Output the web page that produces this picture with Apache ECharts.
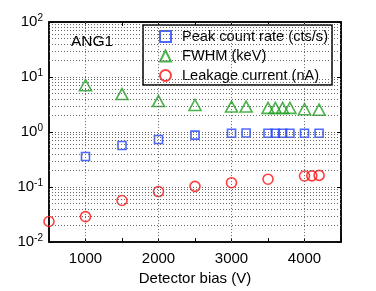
<!DOCTYPE html>
<html><head><meta charset="utf-8">
<script src="https://cdn.jsdelivr.net/npm/echarts@6/dist/echarts.min.js"></script>
<style>html,body{margin:0;padding:0;background:#fff}#c{width:376px;height:291px}</style>
</head><body><div id="c"></div>
<script>
const biasMain = [1000,1500,2000,2500,3000,3200,3500,3600,3700,3800,4000,4200];
const peakRate = [0.36,0.57,0.73,0.88,0.95,0.96,0.95,0.95,0.95,0.95,0.95,0.95];
const fwhm = [7.1,4.9,3.66,3.1,2.9,2.9,2.75,2.75,2.75,2.75,2.6,2.55];
const biasLeak = [500,1000,1500,2000,2500,3000,3500,4000,4100,4200];
const leakage = [0.0237,0.029,0.057,0.083,0.103,0.12,0.139,0.159,0.16,0.163];
const xTicks = [1000,2000,3000,4000];
const minorY = [];
for (let e = -2; e <= 1; e++) for (let m = 2; m <= 9; m++) minorY.push(m * Math.pow(10, e));

const F = 'Liberation Sans, Arial, Helvetica, sans-serif';
const chart = echarts.init(document.getElementById('c'), null, {renderer:'canvas'});
const grid = {left:49, right:35, top:22, bottom:42, show:true, borderColor:'#000', borderWidth:1.5, backgroundColor:'#fff'};
const dotted = {color:'#666', type:[1,2], width:1};
const pair = (xs, ys) => xs.map((x,i)=>[x, ys[i]]);
const expFmt = v => { const e = Math.round(Math.log10(v)); return '10{s|' + e + '}'; };

chart.setOption({
  animation:false,
  grid,
  textStyle:{fontFamily:F},
  title:{text:'ANG1', left:66, top:29, textStyle:{fontFamily:F, fontSize:15.5, fontWeight:'normal', color:'#000'}},
  legend:{
    orient:'vertical', left:143, top:25, padding:[4,4,2,16], itemGap:4.5, itemWidth:11, itemHeight:11,
    backgroundColor:'#fff', borderColor:'#000', borderWidth:1.5,
    textStyle:{fontFamily:F, fontSize:14.6, lineHeight:15, color:'#000', padding:[0,0,0,6]},
    data:['Peak count rate (cts/s)','FWHM (keV)','Leakage current (nA)']
  },
  xAxis:[{
    type:'value', min:500, max:4500, interval:500,
    name:'Detector bias (V)', nameLocation:'middle', nameGap:24,
    nameTextStyle:{fontFamily:F, fontSize:15, color:'#000'},
    axisLine:{lineStyle:{color:'#000', width:1.5}},
    axisTick:{inside:true, length:4, lineStyle:{color:'#000'}, interval:0},
    axisLabel:{fontFamily:F, fontSize:15, color:'#000', margin:9,
      formatter: v => xTicks.includes(v) ? String(v) : ''},
    splitLine:{show:false}
  },{
    type:'value', position:'top', min:500, max:4500, interval:500,
    axisLine:{show:true, lineStyle:{color:'#000', width:1.5}},
    axisTick:{inside:true, length:4, lineStyle:{color:'#000'}},
    axisLabel:{show:false}, splitLine:{show:false}
  }],
  yAxis:[{
    type:'log', logBase:10, min:0.01, max:100,
    axisLine:{show:true, lineStyle:{color:'#000', width:1.5}},
    axisTick:{inside:true, length:4, lineStyle:{color:'#000'}},
    axisLabel:{fontFamily:F, fontSize:15, color:'#000', margin:6, formatter:expFmt,
      rich:{s:{fontFamily:F, fontSize:10, verticalAlign:'top', padding:[0,0,8,0], color:'#000'}}},
    splitLine:{show:true, lineStyle:dotted}
  },{
    type:'log', logBase:10, min:0.01, max:100, position:'right',
    axisLine:{show:true, lineStyle:{color:'#000', width:1.5}},
    axisTick:{inside:true, length:4, lineStyle:{color:'#000'}},
    axisLabel:{show:false}, splitLine:{show:false}
  }],
  series:[
    {type:'line', data:[], silent:true, z:1,
      markLine:{silent:true, symbol:'none', label:{show:false}, lineStyle:dotted, animation:false,
        data: minorY.map(v=>({yAxis:v})).concat(xTicks.map(v=>({xAxis:v})))}},
    {name:'Peak count rate (cts/s)', type:'scatter', symbol:'rect', symbolSize:8,
      itemStyle:{color:'rgba(0,0,0,0)', borderColor:'#2244ff', borderWidth:1.6},
      data:pair(biasMain, peakRate), z:3},
    {name:'FWHM (keV)', type:'scatter', symbol:'triangle', symbolSize:[12,11],
      itemStyle:{color:'rgba(0,0,0,0)', borderColor:'#1ea01e', borderWidth:1.6},
      data:pair(biasMain, fwhm), z:3},
    {name:'Leakage current (nA)', type:'scatter', symbol:'circle', symbolSize:10,
      itemStyle:{color:'rgba(0,0,0,0)', borderColor:'#ff1010', borderWidth:1.6},
      data:pair(biasLeak, leakage), z:3}
  ]
});
</script></body></html>
